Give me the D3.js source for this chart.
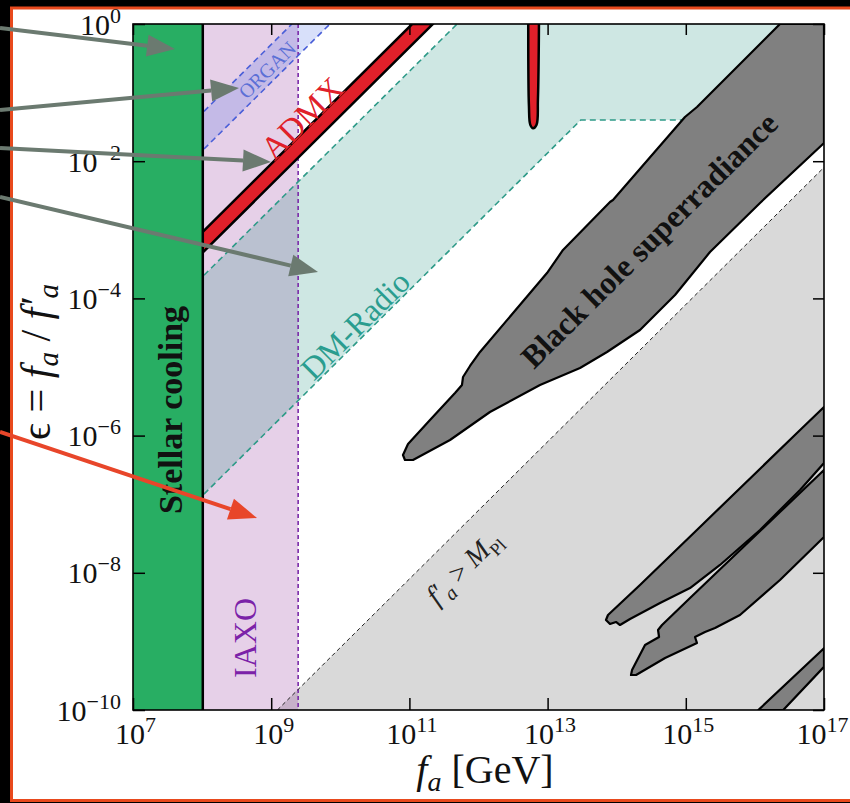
<!DOCTYPE html>
<html><head><meta charset="utf-8">
<script src="https://cdn.jsdelivr.net/npm/d3@7"></script>
<style>html,body{margin:0;padding:0;background:#000;}svg{display:block;}</style>
</head><body>
<script>
// ---- data (log10 fa, log10 eps) ----
const xTicks = [7, 9, 11, 13, 15, 17];
const yTicks = [0, -2, -4, -6, -8, -10];
const stellarCooling = [7, 8.01];
const iaxoEdge = 9.39;
const organBand = [[7, -2.30], [9.30, 0], [9.85, 0], [7, -2.85]];
const admxBand = [[7, -4.04], [11.04, 0], [11.34, 0], [7, -4.34]];
const admxSpike = [[12.72, 0], [12.73, -1.2], [12.75, -1.47], [12.79, -1.52], [12.84, -1.47], [12.86, -1.1], [12.875, 0]];
const dmRadio = [[7, -4.69], [11.69, 0], [17, 0], [17, -1.40], [13.48, -1.40], [7, -7.88]];
const dmRadioUpper = [[7, -4.69], [11.69, 0]];
const dmRadioLower = [[7, -7.88], [13.48, -1.40], [17, -1.40]];
const organUpper = [[7, -2.30], [9.30, 0]];
const organLower = [[7, -2.85], [9.85, 0]];
const mplLine = [[9.09, -10], [17, -2.09]];
const mplRegion = [[9.09, -10], [17, -2.09], [17, -10]];
const bhMain = [[16.363, 0], [15.162, -1.210], [14.988, -1.356], [13.946, -2.566], [13.903, -2.595],
  [13.223, -3.294], [12.991, -3.630], [12.022, -4.781], [11.877, -4.985], [11.776, -5.146],
  [11.761, -5.262], [11.660, -5.379], [11.298, -5.773], [10.980, -6.122], [10.907, -6.283],
  [10.936, -6.356], [11.052, -6.356], [11.588, -6.064], [12.166, -5.656], [12.890, -5.262],
  [13.469, -5.015], [13.860, -4.781], [14.337, -4.461], [14.844, -3.950], [15.350, -3.324],
  [16.074, -2.609], [17, -1.735], [17, 0]];
const bhFinger1 = [[17, -5.583], [16.609, -5.962], [15.205, -7.332], [14.337, -8.178], [13.874, -8.615],
  [13.845, -8.688], [13.903, -8.746], [13.990, -8.717], [14.048, -8.761], [14.193, -8.673],
  [14.627, -8.440], [15.061, -8.222], [15.495, -7.886], [16.074, -7.376], [16.653, -6.793], [17, -6.399]];
const bhFinger2 = [[17, -6.501], [16.363, -7.114], [15.712, -7.741], [15.061, -8.367], [14.656, -8.761],
  [14.598, -8.834], [14.613, -8.936], [14.410, -9.052], [14.222, -9.417], [14.207, -9.490],
  [14.280, -9.490], [14.700, -9.242], [15.162, -9.023], [15.133, -8.936], [15.278, -8.863],
  [15.423, -8.805], [15.784, -8.615], [16.363, -8.105], [17, -7.478]];
const bhStrip = [[16.05, -10], [17, -9.10], [17, -9.37], [16.41, -10]];

const W = 850, H = 803;
const svg = d3.select("body").append("svg").attr("width", W).attr("height", H);
const FONT = "'Liberation Serif','DejaVu Serif',serif";

// slide frame
svg.append("rect").attr("x", 0).attr("y", 0).attr("width", W).attr("height", H).attr("fill", "#000");
svg.append("rect").attr("x", 11.5).attr("y", 8).attr("width", 845).attr("height", 792.5)
  .attr("fill", "#fff").attr("stroke", "#e8491d").attr("stroke-width", 3);

const x = d3.scaleLog().domain([1e7, 1e17]).range([133, 824]);
const y = d3.scaleLog().domain([1, 1e-10]).range([24, 710]);
const px = d => x(Math.pow(10, d[0]));
const py = d => y(Math.pow(10, d[1]));
const line = d3.line().x(px).y(py);
const poly = pts => line(pts) + "Z";

svg.append("clipPath").attr("id", "clip").append("rect")
  .attr("x", x(1e7)).attr("y", y(1)).attr("width", x(1e17) - x(1e7)).attr("height", y(1e-10) - y(1));
const g = svg.append("g").attr("clip-path", "url(#clip)");

g.append("path").attr("d", poly(mplRegion)).attr("fill", "rgba(0,0,0,0.15)");
g.append("rect").attr("x", x(10 ** stellarCooling[1])).attr("y", y(1))
  .attr("width", x(10 ** iaxoEdge) - x(10 ** stellarCooling[1])).attr("height", y(1e-10) - y(1))
  .attr("fill", "rgba(128,20,140,0.2)");
g.append("path").attr("d", poly(dmRadio)).attr("fill", "rgba(10,135,115,0.2)");
g.append("path").attr("d", poly(organBand)).attr("fill", "rgba(60,100,230,0.2)");
g.append("line").attr("x1", x(10 ** iaxoEdge)).attr("x2", x(10 ** iaxoEdge)).attr("y1", y(1)).attr("y2", y(1e-10))
  .attr("stroke", "#7a2aa8").attr("stroke-width", 1.6).attr("stroke-dasharray", "4,3");
[dmRadioUpper, dmRadioLower].forEach(l => g.append("path").attr("d", line(l)).attr("fill", "none")
  .attr("stroke", "#2e9a88").attr("stroke-width", 1.6).attr("stroke-dasharray", "6,4"));
[organUpper, organLower].forEach(l => g.append("path").attr("d", line(l)).attr("fill", "none")
  .attr("stroke", "#4a5fd8").attr("stroke-width", 1.6).attr("stroke-dasharray", "6,4"));
g.append("path").attr("d", line(mplLine)).attr("fill", "none")
  .attr("stroke", "#222").attr("stroke-width", 1).attr("stroke-dasharray", "4,3");
g.append("path").attr("d", poly(admxBand)).attr("fill", "#e0202a").attr("stroke", "#000").attr("stroke-width", 2.5);
g.append("path").attr("d", d3.line().x(px).y(py).curve(d3.curveCatmullRom)(admxSpike))
  .attr("fill", "#e0202a").attr("stroke", "#000").attr("stroke-width", 2.5);
[bhMain, bhFinger1, bhFinger2, bhStrip].forEach(p => g.append("path").attr("d", poly(p))
  .attr("fill", "#808080").attr("stroke", "#000").attr("stroke-width", 2.2).attr("stroke-linejoin", "round"));
g.append("rect").attr("x", x(10 ** stellarCooling[0])).attr("y", y(1))
  .attr("width", x(10 ** stellarCooling[1]) - x(10 ** stellarCooling[0])).attr("height", y(1e-10) - y(1))
  .attr("fill", "#28ae63");
g.append("line").attr("x1", x(10 ** stellarCooling[1])).attr("x2", x(10 ** stellarCooling[1]))
  .attr("y1", y(1)).attr("y2", y(1e-10)).attr("stroke", "#000").attr("stroke-width", 2.5);

svg.append("rect").attr("x", x(1e7)).attr("y", y(1)).attr("width", x(1e17) - x(1e7)).attr("height", y(1e-10) - y(1))
  .attr("fill", "none").attr("stroke", "#000").attr("stroke-width", 1.6);

function supLabel(sel, sfs, dy) {
  sel.each(function (d) {
    const t = d3.select(this);
    const e = Math.round(Math.log10(d));
    t.text(null);
    t.append("tspan").text("10");
    t.append("tspan").attr("dy", dy).attr("font-size", sfs).text(String(e).replace("-", "\u2212"));
  });
}
const xb = svg.append("g").attr("transform", `translate(0,${y(1e-10)})`)
  .call(d3.axisBottom(x).tickValues(xTicks.map(v => 10 ** v)).tickSizeInner(-12).tickSizeOuter(0).tickPadding(14));
xb.attr("font-family", FONT);
xb.select(".domain").remove();
xb.selectAll(".tick line").attr("stroke", "#000").attr("stroke-width", 1.5);
xb.selectAll(".tick text").style("font-family", FONT).attr("font-size", 30).attr("fill", "#111")
  .attr("dy", null).attr("y", 34).attr("dx", d => d >= 1e17 ? -2 : 2);
supLabel(xb.selectAll(".tick text"), 22, -12);

const yl = svg.append("g").attr("transform", `translate(${x(1e7)},0)`)
  .call(d3.axisLeft(y).tickValues(yTicks.map(v => 10 ** v)).tickSizeInner(-12).tickSizeOuter(0).tickPadding(14));
yl.attr("font-family", FONT);
yl.select(".domain").remove();
yl.selectAll(".tick line").attr("stroke", "#000").attr("stroke-width", 1.5);
yl.selectAll(".tick text").style("font-family", FONT).attr("font-size", 30).attr("fill", "#111")
  .attr("dy", null).attr("y", 10).attr("x", -12);
supLabel(yl.selectAll(".tick text"), 22, -12);

const xt = svg.append("g").attr("transform", `translate(0,${y(1)})`)
  .call(d3.axisTop(x).tickValues(xTicks.map(v => 10 ** v)).tickSizeInner(-11).tickSizeOuter(0).tickFormat(""));
xt.select(".domain").remove();
xt.selectAll(".tick line").attr("stroke", "#000").attr("stroke-width", 1.5);
const yr = svg.append("g").attr("transform", `translate(${x(1e17)},0)`)
  .call(d3.axisRight(y).tickValues(yTicks.map(v => 10 ** v)).tickSizeInner(-11).tickSizeOuter(0).tickFormat(""));
yr.select(".domain").remove();
yr.selectAll(".tick line").attr("stroke", "#000").attr("stroke-width", 1.5);

const xt1 = svg.append("text").attr("x", 485).attr("y", 783).attr("text-anchor", "middle")
  .attr("font-family", FONT).attr("font-size", 40).attr("fill", "#111");
xt1.append("tspan").attr("font-style", "italic").text("f");
xt1.append("tspan").attr("font-style", "italic").attr("font-size", 28).attr("dy", 8).text("a");
xt1.append("tspan").attr("dy", -8).text(" [GeV]");

const yt = svg.append("text").attr("transform", "translate(50,362) rotate(-90)").attr("text-anchor", "middle")
  .attr("font-family", FONT).attr("font-size", 42).attr("fill", "#111");
yt.append("tspan").text("\u03f5 = ");
yt.append("tspan").attr("font-style", "italic").text("f");
yt.append("tspan").attr("font-style", "italic").attr("font-size", 29).attr("dy", 8).text("a");
yt.append("tspan").attr("dy", -8).text(" / ");
yt.append("tspan").attr("font-style", "italic").text("f\u2032");
yt.append("tspan").attr("font-style", "italic").attr("font-size", 29).attr("dy", 8).text("a");

function label(txt, cx, cy, rot, opts) {
  return svg.append("text").attr("transform", `translate(${cx},${cy}) rotate(${rot})`)
    .attr("text-anchor", "middle").attr("dy", "0.35em")
    .attr("font-family", FONT).attr("font-size", opts.size).attr("fill", opts.color)
    .attr("font-weight", opts.weight || "normal").text(txt);
}
label("Stellar cooling", 170, 410, -90, { size: 34, color: "#111", weight: "bold" });
label("IAXO", 245, 638, -90, { size: 32, color: "#7b22a8" });
label("ORGAN", 267, 70, -44.8, { size: 20, color: "#5b6fd6" });
label("ADMX", 302, 118, -44.8, { size: 33, color: "#e0202a" });
label("DM-Radio", 355, 325, -44.8, { size: 32, color: "#2a9d8f" });
label("Black hole superradiance", 649, 240, -44.8, { size: 32, color: "#111", weight: "bold" });
const mp = svg.append("text").attr("transform", "translate(463,567) rotate(-44.8)")
  .attr("text-anchor", "middle").attr("dy", "0.35em")
  .attr("font-family", FONT).attr("font-size", 28).attr("fill", "#222");
mp.append("tspan").attr("font-style", "italic").text("f\u2032");
mp.append("tspan").attr("font-style", "italic").attr("font-size", 20).attr("dy", 7).text("a");
mp.append("tspan").attr("dy", -7).text(" > ");
mp.append("tspan").attr("font-style", "italic").text("M");
mp.append("tspan").attr("font-size", 18).attr("dy", 7).text("Pl");

const arrows = [
  { from: [0, 28], to: [175, 49], c: "#6b7a70" },
  { from: [0, 110], to: [239, 88], c: "#6b7a70" },
  { from: [0, 148], to: [271, 162], c: "#6b7a70" },
  { from: [0, 197], to: [318, 272], c: "#6b7a70" },
  { from: [0, 432], to: [257, 518], c: "#e8462a" }
];
arrows.forEach(a => {
  const [x0, y0] = a.from, [x1, y1] = a.to;
  const ang = Math.atan2(y1 - y0, x1 - x0);
  const L = 28, Wd = 11;
  const bx = x1 - L * Math.cos(ang), by = y1 - L * Math.sin(ang);
  svg.append("line").attr("x1", x0).attr("y1", y0).attr("x2", bx).attr("y2", by)
    .attr("stroke", a.c).attr("stroke-width", 4);
  const nx = -Math.sin(ang), ny = Math.cos(ang);
  svg.append("path").attr("d", `M${x1},${y1}L${bx + nx * Wd},${by + ny * Wd}L${bx - nx * Wd},${by - ny * Wd}Z`)
    .attr("fill", a.c);
});
</script>
</body></html>
